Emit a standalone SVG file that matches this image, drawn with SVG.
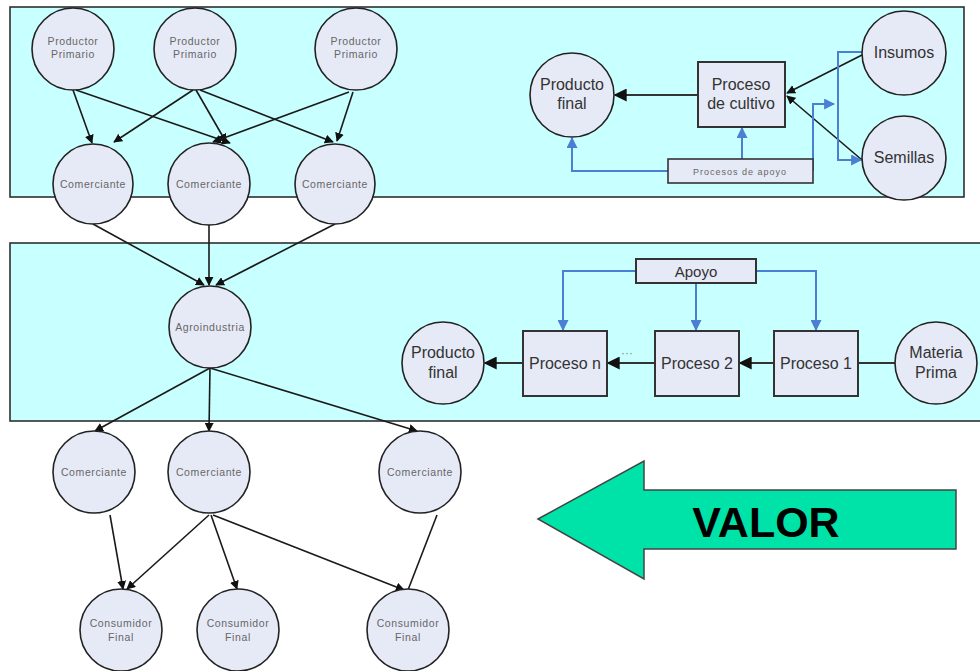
<svg xmlns="http://www.w3.org/2000/svg" width="980" height="671" viewBox="0 0 980 671">
<defs>
<marker id="ab" viewBox="0 0 10 10" refX="9" refY="5" markerWidth="9" markerHeight="9" markerUnits="userSpaceOnUse" orient="auto"><path d="M0,0 L10,5 L0,10 z" fill="#111"/></marker>
<marker id="abig" viewBox="0 0 10 10" refX="9" refY="5" markerWidth="13" markerHeight="13" markerUnits="userSpaceOnUse" orient="auto"><path d="M0,0 L10,5 L0,10 z" fill="#111"/></marker>
<marker id="bl" viewBox="0 0 10 10" refX="9" refY="5" markerWidth="11" markerHeight="11" markerUnits="userSpaceOnUse" orient="auto"><path d="M0,0 L10,5 L0,10 z" fill="#4a7fd4"/></marker>
</defs>
<style>
.panel{fill:#c8ffff;stroke:#222;stroke-width:1.5}
.nd{fill:#e6eaf7;stroke:#222;stroke-width:1.6}
.bx{fill:#e6eaf7;stroke:#333;stroke-width:2}
.sm{font-family:"Liberation Sans",Arial,sans-serif;font-size:10.5px;letter-spacing:0.6px;fill:#666;text-anchor:middle}
.lg{font-family:"Liberation Sans",Arial,sans-serif;font-size:16px;fill:#333;text-anchor:middle}
.e{stroke:#1a1a1a;stroke-width:1.6;fill:none;marker-end:url(#ab)}
.en{stroke:#1a1a1a;stroke-width:1.6;fill:none}
.ek{stroke:#333;stroke-width:2.2;fill:none;marker-end:url(#abig)}
.b{stroke:#4a7fd4;stroke-width:2;fill:none;marker-end:url(#bl)}
</style>
<rect class="panel" x="10" y="7" width="954" height="190"/>
<rect class="panel" x="10" y="243" width="980" height="178"/>
<g id="connectors">
<line class="e" x1="73" y1="90" x2="92" y2="143"/>
<line class="e" x1="76" y1="90" x2="230" y2="143"/>
<line class="e" x1="193" y1="90" x2="114" y2="142"/>
<line class="e" x1="196" y1="90" x2="226" y2="142"/>
<line class="e" x1="200" y1="90" x2="333" y2="142"/>
<line class="e" x1="349" y1="92" x2="213" y2="142"/>
<line class="e" x1="353" y1="92" x2="337" y2="141"/>
<line class="e" x1="93" y1="224" x2="204" y2="285"/>
<line class="e" x1="209" y1="224" x2="209" y2="285"/>
<line class="e" x1="335" y1="224" x2="216" y2="285"/>
<line class="e" x1="210" y1="368" x2="95" y2="431"/>
<line class="e" x1="210" y1="368" x2="209" y2="431"/>
<line class="e" x1="210" y1="368" x2="417" y2="431"/>
<line class="e" x1="110" y1="515" x2="123" y2="589"/>
<line class="e" x1="209" y1="515" x2="127" y2="589"/>
<line class="e" x1="211" y1="515" x2="237" y2="589"/>
<line class="e" x1="213" y1="515" x2="404" y2="590"/>
<line class="en" x1="437" y1="515" x2="408" y2="590"/>
<line class="ek" x1="698" y1="95" x2="615" y2="95"/>
<line class="e" x1="862" y1="55" x2="787" y2="93"/>
<line class="e" x1="862" y1="160" x2="787" y2="96"/>
<polyline class="b" points="668,171 572,171 572,138"/>
<polyline class="b" points="742,159 742,128"/>
<polyline class="b" points="813,171 813,104 834,104"/>
<polyline class="b" points="862,52 838,52 838,160 861,160"/>
<line class="ek" x1="774" y1="363" x2="740" y2="363"/>
<line class="ek" x1="655" y1="363" x2="608" y2="363"/>
<line class="ek" x1="523" y1="363" x2="485" y2="363"/>
<line class="en" x1="895" y1="363" x2="858" y2="363" style="stroke-width:2.2;stroke:#333"/>
<polyline class="b" points="636,271 563,271 563,330"/>
<polyline class="b" points="696,283 696,330"/>
<polyline class="b" points="756,271 816,271 816,330"/>
</g>
<text x="627" y="357" style="font-family:'Liberation Sans',Arial,sans-serif;font-size:12px;fill:#888;text-anchor:middle">···</text>
<g id="pp1"><circle class="nd" cx="73" cy="49" r="41"/><text class="sm" x="73" y="45">Productor</text><text class="sm" x="73" y="58">Primario</text></g>
<g id="pp2"><circle class="nd" cx="195" cy="49" r="41"/><text class="sm" x="195" y="45">Productor</text><text class="sm" x="195" y="58">Primario</text></g>
<g id="pp3"><circle class="nd" cx="356" cy="49" r="41"/><text class="sm" x="356" y="45">Productor</text><text class="sm" x="356" y="58">Primario</text></g>
<g id="com1"><circle class="nd" cx="93" cy="184" r="40"/><text class="sm" x="93" y="188">Comerciante</text></g>
<g id="com2"><circle class="nd" cx="209" cy="184" r="41"/><text class="sm" x="209" y="188">Comerciante</text></g>
<g id="com3"><circle class="nd" cx="335" cy="184" r="40"/><text class="sm" x="335" y="188">Comerciante</text></g>
<g id="agro"><circle class="nd" cx="210" cy="327" r="41"/><text class="sm" x="210" y="331">Agroindustria</text></g>
<g id="com4"><circle class="nd" cx="94" cy="472" r="41"/><text class="sm" x="94" y="476">Comerciante</text></g>
<g id="com5"><circle class="nd" cx="209" cy="472" r="41"/><text class="sm" x="209" y="476">Comerciante</text></g>
<g id="com6"><circle class="nd" cx="420" cy="472" r="41"/><text class="sm" x="420" y="476">Comerciante</text></g>
<g id="cf1"><circle class="nd" cx="121" cy="630" r="41"/><text class="sm" x="121" y="627">Consumidor</text><text class="sm" x="121" y="641">Final</text></g>
<g id="cf2"><circle class="nd" cx="238" cy="630" r="41"/><text class="sm" x="238" y="627">Consumidor</text><text class="sm" x="238" y="641">Final</text></g>
<g id="cf3"><circle class="nd" cx="408" cy="630" r="41"/><text class="sm" x="408" y="627">Consumidor</text><text class="sm" x="408" y="641">Final</text></g>
<g id="pf1"><circle class="nd" cx="572" cy="95" r="42"/><text class="lg" x="572" y="90">Producto</text><text class="lg" x="572" y="109">final</text></g>
<g id="cultivo"><rect class="bx" x="698" y="62" width="87" height="65"/><text class="lg" x="741" y="90">Proceso</text><text class="lg" x="741" y="109">de cultivo</text></g>
<g id="insumos"><circle class="nd" cx="904" cy="53" r="42"/><text class="lg" x="904" y="58">Insumos</text></g>
<g id="semillas"><circle class="nd" cx="904" cy="158" r="42"/><text class="lg" x="904" y="163">Semillas</text></g>
<g id="papoyo"><rect class="bx" x="668" y="159" width="145" height="24" style="stroke-width:1.6"/><text class="sm" x="740" y="175" style="font-size:9px;letter-spacing:1px">Procesos de apoyo</text></g>
<g id="apoyo"><rect class="bx" x="636" y="259" width="120" height="24"/><text class="lg" x="696" y="277" style="font-size:15px">Apoyo</text></g>
<g id="procn"><rect class="bx" x="523" y="331" width="84" height="65"/><text class="lg" x="565" y="369">Proceso n</text></g>
<g id="proc2"><rect class="bx" x="655" y="331" width="84" height="65"/><text class="lg" x="697" y="369">Proceso 2</text></g>
<g id="proc1"><rect class="bx" x="774" y="331" width="84" height="65"/><text class="lg" x="816" y="369">Proceso 1</text></g>
<g id="pf2"><circle class="nd" cx="443" cy="363" r="41"/><text class="lg" x="443" y="358">Producto</text><text class="lg" x="443" y="378">final</text></g>
<g id="materia"><circle class="nd" cx="936" cy="363" r="41"/><text class="lg" x="936" y="358">Materia</text><text class="lg" x="936" y="378">Prima</text></g>
<g id="valor"><polygon points="538,519 644,461 644,490 956,490 956,549 644,549 644,579" fill="#00e3a8" stroke="#444" stroke-width="1.5"/><text x="766" y="537" style="font-family:'Liberation Sans',Arial,sans-serif;font-size:43px;font-weight:bold;fill:#000;text-anchor:middle">VALOR</text></g>
</svg>
